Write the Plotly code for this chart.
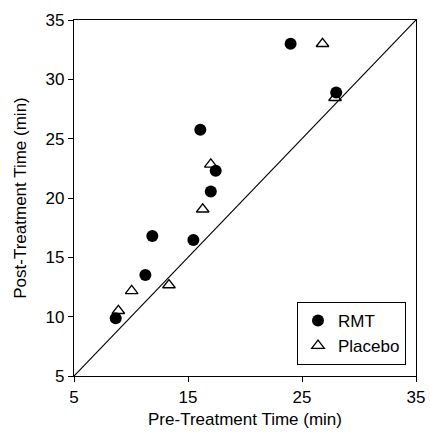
import plotly.graph_objects as go

rmt_pre = [8.66, 11.26, 11.87, 15.47, 16.08, 17.0, 17.43, 24.0, 28.0]
rmt_post = [9.87, 13.52, 16.8, 16.47, 25.76, 20.54, 22.3, 33.0, 28.9]
placebo_pre = [8.89, 10.06, 13.33, 16.29, 17.0, 26.8, 27.9]
placebo_post = [10.5, 12.17, 12.67, 19.05, 22.84, 33.0, 28.45]
identity = [5, 35]
ticks = [5, 15, 25, 35]
yticks = [5, 10, 15, 20, 25, 30, 35]

font = "Liberation Sans, Arial, sans-serif"

fig = go.Figure()
fig.add_trace(go.Scatter(x=identity, y=identity, mode="lines",
                         line=dict(color="black", width=1.2), showlegend=False,
                         hoverinfo="skip"))
fig.add_trace(go.Scatter(x=rmt_pre, y=rmt_post, mode="markers", name="RMT",
                         marker=dict(symbol="circle", size=12, color="black")))
fig.add_trace(go.Scatter(x=placebo_pre, y=placebo_post, mode="markers", name="Placebo",
                         marker=dict(symbol="triangle-up-open", size=11, color="black",
                                     line=dict(width=1.3, color="black"))))

axis_common = dict(showgrid=False, zeroline=False, showline=True, linecolor="black",
                   linewidth=1.2, mirror=True, ticks="outside", ticklen=5,
                   tickcolor="black", tickwidth=1.2, automargin=False,
                   tickfont=dict(family=font, size=17, color="black"))

fig.update_xaxes(range=[5, 35], tickvals=ticks,
                 title=dict(text="Pre-Treatment Time (min)",
                            font=dict(family=font, size=17, color="black"), standoff=7),
                 **axis_common)
fig.update_yaxes(range=[5, 35], tickvals=yticks,
                 title=dict(text="Post-Treatment Time (min)",
                            font=dict(family=font, size=17, color="black"), standoff=14),
                 **axis_common)

fig.update_layout(
    width=430, height=435,
    margin=dict(l=74, r=14, t=20, b=59),
    plot_bgcolor="white", paper_bgcolor="white",
    font=dict(family=font, size=17, color="black"),
    legend=dict(x=(297 - 74) / 342, y=(376 - 302) / 356, xanchor="left", yanchor="top",
                bordercolor="black", borderwidth=1, bgcolor="white",
                font=dict(family=font, size=17, color="black"),
                itemwidth=30, tracegroupgap=0),
    showlegend=True,
)

fig.write_html("out.html")
